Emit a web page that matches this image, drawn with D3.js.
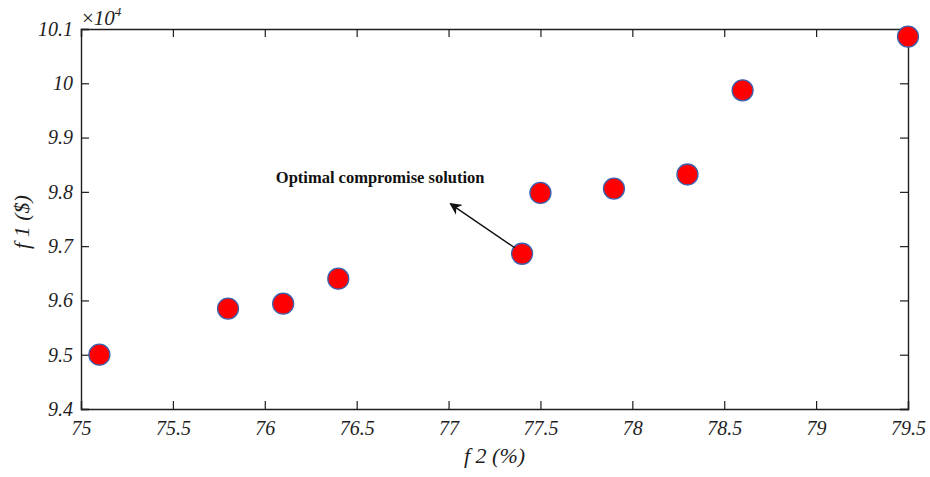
<!DOCTYPE html>
<html><head><meta charset="utf-8">
<script src="https://cdn.jsdelivr.net/npm/d3@7"></script>
<style>body{margin:0;background:#fff;} svg{display:block;}</style>
</head><body>
<script>
const f2 = [75.1, 75.8, 76.1, 76.4, 77.4, 77.5, 77.9, 78.3, 78.6, 79.5];
const f1 = [9.50, 9.585, 9.594, 9.640, 9.686, 9.798, 9.806, 9.832, 9.987, 10.086];
const xTicks = [75, 75.5, 76, 76.5, 77, 77.5, 78, 78.5, 79, 79.5];
const yTicks = [9.4, 9.5, 9.6, 9.7, 9.8, 9.9, 10, 10.1];
const annotationText = "Optimal compromise solution";
const annotationPos = [76.06, 9.816];
const arrowFrom = [77.36, 9.697];
const arrowTo = [77.01, 9.778];

const W = 930, H = 477;
const m = {left: 81, top: 29, right: 22, bottom: 68};
const svg = d3.select("body").append("svg").attr("width", W).attr("height", H);
const x = d3.scaleLinear().domain([75, 79.5]).range([m.left, W - m.right]);
const y = d3.scaleLinear().domain([9.4, 10.1]).range([H - m.bottom, m.top]);
const col = "#1e1e1e";
const fnt = '"Liberation Serif", Tinos, "Times New Roman", Times, "Nimbus Roman", "DejaVu Serif", serif';

const g = svg.append("g");
const fmt = d => String(d);
const ax = g.append("g").attr("transform", `translate(0,${y(9.4)})`)
  .call(d3.axisBottom(x).tickValues(xTicks).tickFormat(fmt).tickSize(-8).tickPadding(12));
const ay = g.append("g").attr("transform", `translate(${x(75)},0)`)
  .call(d3.axisLeft(y).tickValues(yTicks).tickFormat(fmt).tickSize(-8).tickPadding(8));
const at = g.append("g").attr("transform", `translate(0,${y(10.1)})`)
  .call(d3.axisTop(x).tickValues(xTicks).tickFormat("").tickSize(-8));
const ar = g.append("g").attr("transform", `translate(${x(79.5)},0)`)
  .call(d3.axisRight(y).tickValues(yTicks).tickFormat("").tickSize(-8));
[ax, ay, at, ar].forEach(a => {
  a.attr("font-family", null).attr("font-size", null);
  a.select(".domain").attr("stroke", col).attr("stroke-width", 1.4);
  a.selectAll(".tick line").attr("stroke", col).attr("stroke-width", 1.2);
  a.selectAll(".tick text").attr("fill", col).attr("font-family", fnt)
    .attr("font-style", "italic").attr("font-size", 20);
});
ax.selectAll(".tick text").attr("dy", "0.68em");
ay.selectAll(".tick text").attr("dy", "0.32em");

const mult = svg.append("text").attr("x", x(75) + 1).attr("y", y(10.1) - 4)
  .attr("fill", col).attr("font-family", fnt).attr("font-size", 21);
mult.append("tspan").text("×");
mult.append("tspan").attr("font-style", "italic").text("10");
mult.append("tspan").attr("font-style", "italic").attr("font-size", 13).attr("dy", -9).text("4");

svg.append("text").attr("x", (x(75) + x(79.5)) / 2).attr("y", 463)
  .attr("text-anchor", "middle").attr("fill", col).attr("font-family", fnt)
  .attr("font-style", "italic").attr("font-size", 22).text("f 2 (%)");
svg.append("text").attr("transform", `translate(29,${(y(9.4) + y(10.1)) / 2 + 3}) rotate(-90)`)
  .attr("text-anchor", "middle").attr("fill", col).attr("font-family", fnt)
  .attr("font-style", "italic").attr("font-size", 22).text("f 1 ($)");

svg.append("g").selectAll("circle").data(f2).join("circle")
  .attr("cx", d => x(d)).attr("cy", (d, i) => y(f1[i])).attr("r", 10.5)
  .attr("fill", "#ff0000").attr("stroke", "#3a62b0").attr("stroke-width", 1.3);

svg.append("defs").append("marker").attr("id", "ah").attr("viewBox", "0 0 10 10")
  .attr("refX", 9).attr("refY", 5).attr("markerWidth", 12).attr("markerHeight", 12)
  .attr("markerUnits", "userSpaceOnUse").attr("orient", "auto")
  .append("path").attr("d", "M0,0 L10,5 L0,10 L3,5 Z").attr("fill", "#111");
svg.append("line").attr("x1", x(arrowFrom[0])).attr("y1", y(arrowFrom[1]))
  .attr("x2", x(arrowTo[0])).attr("y2", y(arrowTo[1]))
  .attr("stroke", "#111").attr("stroke-width", 1.4).attr("marker-end", "url(#ah)");
svg.append("text").attr("x", x(annotationPos[0])).attr("y", y(annotationPos[1]))
  .attr("fill", "#111").attr("font-family", fnt).attr("font-weight", "bold")
  .attr("font-size", 16.5).text(annotationText);
</script>
</body></html>
